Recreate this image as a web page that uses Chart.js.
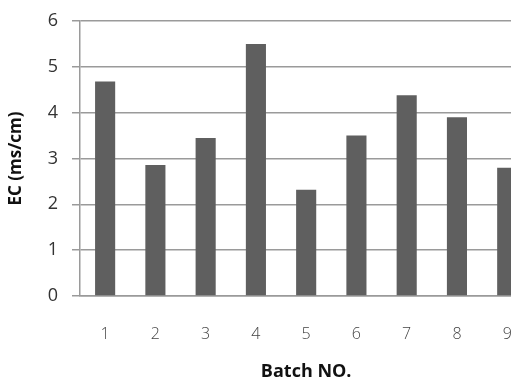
<!DOCTYPE html>
<html>
<head>
<meta charset="utf-8">
<script src="https://cdn.jsdelivr.net/npm/chart.js@4.4.1/dist/chart.umd.min.js"></script>
<style>
    html, body { margin: 0; padding: 0; background: #ffffff; overflow: hidden; }
    #wrap { width: 541px; height: 383px; }
</style>
</head>
<body>
<div id="wrap"><canvas id="chart"></canvas></div>
<script>
// Donnees
const batches = ['1', '2', '3', '4', '5', '6', '7', '8', '9'];
const ecValues = [4.68, 2.86, 3.45, 5.50, 2.32, 3.50, 4.38, 3.90, 2.80];
const yTicks = [0, 1, 2, 3, 4, 5, 6];

const gridGrey = '#9a9a9a';
const fontFamily = "'Open Sans', 'Noto Sans', sans-serif";

new Chart(document.getElementById('chart'), {
    type: 'bar',
    data: {
        labels: batches,
        datasets: [{
            label: 'EC',
            data: ecValues,
            backgroundColor: '#5f5f5f',
            borderWidth: 0,
            barPercentage: 0.4,
            categoryPercentage: 1
        }]
    },
    options: {
        responsive: true,
        maintainAspectRatio: false,
        animation: false,
        layout: { padding: { top: 21, right: 4, bottom: 0, left: 0 } },
        plugins: {
            legend: { display: false },
            tooltip: { enabled: false }
        },
        scales: {
            x: {
                grid: { display: false, drawTicks: false },
                border: { display: true, color: gridGrey, width: 1.5 },
                ticks: {
                    color: '#444444',
                    padding: 29,
                    font: { family: fontFamily, size: 16, weight: '300' }
                },
                title: {
                    display: true,
                    text: 'Batch NO.',
                    color: '#111111',
                    padding: { top: 0, bottom: 0 },
                    font: { family: fontFamily, size: 18, weight: 'bold' }
                },
                afterFit: s => { s.height = 87; }
            },
            y: {
                min: 0,
                max: 6,
                afterBuildTicks: s => { s.ticks = yTicks.map(v => ({ value: v })); },
                grid: { color: gridGrey, lineWidth: 1.5, tickLength: 8 },
                border: { display: true, color: gridGrey, width: 1.5 },
                ticks: {
                    color: '#333333',
                    padding: 14,
                    font: { family: fontFamily, size: 18 }
                },
                title: {
                    display: true,
                    text: 'EC (ms/cm)',
                    color: '#111111',
                    padding: { top: 6, bottom: 0 },
                    font: { family: fontFamily, size: 17, weight: 'bold' }
                },
                afterFit: s => {
                    s.width = 80;
                    s.paddingTop = 0;
                    s.paddingBottom = 0;
                }
            }
        }
    }
});
</script>
</body>
</html>
